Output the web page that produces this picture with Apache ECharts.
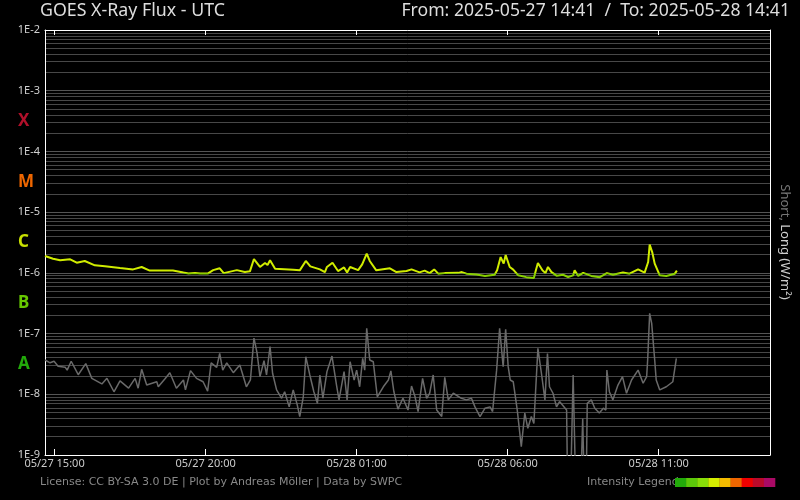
<!DOCTYPE html>
<html><head><meta charset="utf-8">
<script src="https://cdn.jsdelivr.net/npm/echarts@6/dist/echarts.min.js"></script>
<style>html,body{margin:0;padding:0;background:#000}#c{width:800px;height:500px}</style>
</head><body><div id="c"></div>
<script>
// ---- data ----
const startTime = '2025-05-27T14:41:00Z';
const endTime = '2025-05-28T14:41:00Z';
const xTickTimes = ['2025-05-27T15:00:00Z','2025-05-27T20:00:00Z','2025-05-28T01:00:00Z','2025-05-28T06:00:00Z','2025-05-28T11:00:00Z'];
const bandLetters = ['A','B','C','M','X'];
const bandMidValues = [3.16e-8, 3.16e-7, 3.16e-6, 3.16e-5, 3.16e-4];
const bandColors = ['#22aa0a','#66c800','#c8e000','#ee6600','#b0102a'];
const classThreshold = 1e-6;   // long-channel colour switches here (B -> C)
const gridMultipliers = [2,3,4,5,6,7,8,9];
const gridDecades = [-9,-8,-7,-6,-5,-4,-3];
const legendColors = ['#22aa0a','#5cc80a','#88dd08','#d4ee00','#f4bb00','#ee6600','#ee0000','#bb0a2a','#aa0a66'];

// Long channel (0.1-0.8 nm): minutes after start, flux W/m²
const longMinutes = [0,16,30,50,63,79,99,119,149,175,192,208,254,275,285,298,308,324,334,347,355,381,397,407,415,427,437,442,447,457,493,506,518,527,546,556,560,571,582,594,600,606,622,630,639,645,658,685,698,718,728,744,754,764,773,781,794,821,828,837,857,874,893,898,905,911,915,923,930,940,956,971,975,979,988,994,999,1006,1016,1029,1039,1049,1052,1059,1069,1085,1102,1116,1128,1148,1161,1178,1191,1198,1201,1206,1211,1221,1234,1251,1255];
const longFlux = [1.89e-6,1.71e-6,1.61e-6,1.67e-6,1.47e-6,1.57e-6,1.33e-6,1.28e-6,1.20e-6,1.14e-6,1.25e-6,1.09e-6,1.09e-6,1.01e-6,0.98e-6,0.99e-6,0.98e-6,0.98e-6,1.11e-6,1.19e-6,0.99e-6,1.11e-6,1.03e-6,1.06e-6,1.69e-6,1.25e-6,1.45e-6,1.35e-6,1.61e-6,1.17e-6,1.13e-6,1.10e-6,1.57e-6,1.28e-6,1.14e-6,1.03e-6,1.25e-6,1.47e-6,1.07e-6,1.23e-6,1.01e-6,1.25e-6,1.11e-6,1.38e-6,2.07e-6,1.57e-6,1.10e-6,1.19e-6,1.03e-6,1.07e-6,1.14e-6,1.02e-6,1.09e-6,0.99e-6,1.14e-6,0.97e-6,0.99e-6,1.00e-6,1.03e-6,0.97e-6,0.94e-6,0.89e-6,0.93e-6,1.10e-6,1.82e-6,1.42e-6,1.97e-6,1.25e-6,1.13e-6,0.91e-6,0.85e-6,0.82e-6,1.10e-6,1.45e-6,1.10e-6,0.99e-6,1.25e-6,1.03e-6,0.90e-6,0.93e-6,0.85e-6,0.91e-6,1.10e-6,0.89e-6,1.00e-6,0.89e-6,0.85e-6,0.99e-6,0.93e-6,1.01e-6,0.97e-6,1.14e-6,1.01e-6,1.51e-6,2.91e-6,2.20e-6,1.42e-6,0.91e-6,0.89e-6,0.97e-6,1.09e-6];

// Short channel (0.05-0.4 nm): minutes after start, flux W/m²
const shortMinutes = [0,10,18,26,40,44,52,66,81,93,113,123,137,149,166,179,185,192,202,222,225,238,248,261,275,279,289,301,314,323,330,341,347,353,361,374,387,400,408,415,421,427,435,440,447,452,460,470,476,485,493,501,506,513,518,526,534,541,546,552,560,570,579,584,594,600,606,614,619,625,631,635,639,645,652,660,672,682,687,693,701,711,721,728,735,741,750,758,764,771,778,788,794,801,811,827,837,847,854,864,874,884,889,897,903,910,915,920,924,930,938,946,953,959,966,971,979,986,993,998,1002,1009,1016,1022,1036,1038,1044,1049,1054,1064,1068,1071,1075,1077,1085,1092,1101,1109,1114,1116,1121,1128,1138,1147,1155,1165,1178,1188,1195,1197,1201,1205,1211,1214,1221,1234,1247,1254];
const shortFlux = [3.67e-8,3.3e-8,3.5e-8,2.9e-8,2.8e-8,2.5e-8,3.5e-8,2.1e-8,3.2e-8,1.83e-8,1.48e-8,1.83e-8,1.1e-8,1.66e-8,1.26e-8,1.83e-8,1.26e-8,2.58e-8,1.42e-8,1.61e-8,1.33e-8,1.79e-8,2.27e-8,1.26e-8,1.72e-8,1.18e-8,2.45e-8,1.83e-8,1.61e-8,1.13e-8,3.3e-8,2.78e-8,4.7e-8,2.5e-8,3.3e-8,2.27e-8,3.04e-8,1.33e-8,1.72e-8,8.4e-8,4.9e-8,1.95e-8,3.57e-8,2.08e-8,6.1e-8,2.22e-8,1.18e-8,0.86e-8,1.1e-8,0.62e-8,1.18e-8,0.67e-8,0.43e-8,0.91e-8,4.16e-8,2.08e-8,1.1e-8,0.71e-8,2.08e-8,0.86e-8,2.36e-8,4.27e-8,1.42e-8,0.81e-8,2.36e-8,0.81e-8,3.44e-8,1.72e-8,2.5e-8,1.33e-8,3.9e-8,2.5e-8,12.2e-8,3.67e-8,3.44e-8,0.91e-8,1.33e-8,1.72e-8,2.42e-8,1.1e-8,0.57e-8,0.86e-8,0.55e-8,1.37e-8,0.91e-8,0.52e-8,1.83e-8,0.86e-8,1.04e-8,2.08e-8,0.55e-8,0.43e-8,1.9e-8,0.81e-8,1.04e-8,0.86e-8,0.81e-8,0.86e-8,0.62e-8,0.43e-8,0.59e-8,0.62e-8,0.52e-8,2.5e-8,12.2e-8,2.85e-8,11.8e-8,2.85e-8,1.72e-8,1.61e-8,0.55e-8,0.137e-8,0.49e-8,0.275e-8,0.43e-8,0.33e-8,5.7e-8,2.22e-8,0.81e-8,4.7e-8,1.33e-8,1.04e-8,0.62e-8,0.76e-8,0.55e-8,0.03e-8,0.03e-8,2.08e-8,0.03e-8,0.03e-8,0.40e-8,0.03e-8,0.03e-8,0.71e-8,0.81e-8,0.59e-8,0.49e-8,0.59e-8,0.55e-8,2.5e-8,1.1e-8,0.81e-8,1.42e-8,1.95e-8,1.04e-8,1.72e-8,2.5e-8,1.52e-8,1.95e-8,3.67e-8,21.5e-8,14.7e-8,3.67e-8,1.72e-8,1.18e-8,1.33e-8,1.61e-8,3.9e-8];

// ---- chart ----
const t0 = Date.parse(startTime), t1 = Date.parse(endTime);
const spanMin = (t1 - t0) / 60000;
const xTicks = xTickTimes.map(s => (Date.parse(s) - t0) / 60000);
const toPairs = (mins, vals) => mins.map((m, i) => [m, vals[i]]);
const gridValues = [];
gridDecades.forEach(d => gridMultipliers.forEach(k => gridValues.push(k * Math.pow(10, d))));
const pad = n => (n < 10 ? '0' : '') + n;
const fmtTime = m => { const d = new Date(t0 + m * 60000); return pad(d.getUTCMonth()+1) + '/' + pad(d.getUTCDate()) + ' ' + pad(d.getUTCHours()) + ':' + pad(d.getUTCMinutes()); };
const bandRich = {};
bandLetters.forEach((l, i) => { bandRich[l] = { color: bandColors[i], fontSize: 17, fontWeight: 'bold', fontFamily: 'Noto Sans' }; });
const FONT = 'Noto Sans';
const YELLOW = '#d0ec00', GREEN = '#88d000';

const chart = echarts.init(document.getElementById('c'), null, { renderer: 'canvas' });
const graphics = [
  { type: 'text', left: 40, top: 2, style: { text: 'GOES X-Ray Flux - UTC', fill: '#dddddd', font: '17.8px "Noto Sans"' } },
  { type: 'text', right: 10, top: 2, style: { text: 'From: 2025-05-27 14:41  /  To: 2025-05-28 14:41', fill: '#dddddd', font: '17.6px "Noto Sans"' } },
  { type: 'text', x: 785, y: 242, rotation: -Math.PI / 2, style: { text: '{a|Short,} {b|Long (W/m²)}', align: 'center', verticalAlign: 'middle', rich: { a: { fill: '#777777', font: '13px "Noto Sans"' }, b: { fill: '#cccccc', font: '13px "Noto Sans"' } } } },
  { type: 'text', x: 40, y: 482, style: { text: 'License: CC BY-SA 3.0 DE | Plot by Andreas Möller | Data by SWPC', fill: '#888888', font: '11px "DejaVu Sans"', verticalAlign: 'middle' } },
  { type: 'text', x: 587, y: 482, style: { text: 'Intensity Legend', fill: '#888888', font: '11px "DejaVu Sans"', verticalAlign: 'middle' } }
];
legendColors.forEach((c, i) => graphics.push({ type: 'rect', z: 10, shape: { x: 675 + i * 100 / 9, y: 478, width: 100 / 9 + 0.3, height: 9 }, style: { fill: c } }));

chart.setOption({
  backgroundColor: '#000000',
  animation: false,
  grid: { left: 45, right: 30, top: 30, bottom: 45 },
  xAxis: [
    { type: 'value', min: 0, max: spanMin, position: 'bottom',
      axisLine: { show: true, lineStyle: { color: '#ffffff', width: 1 } },
      axisTick: { show: true, inside: true, length: 6, customValues: xTicks, lineStyle: { color: '#ffffff' } },
      axisLabel: { customValues: xTicks, formatter: fmtTime, color: '#cccccc', fontFamily: FONT, fontSize: 11, margin: 3 },
      splitLine: { show: false } },
    { type: 'value', min: 0, max: spanMin, position: 'top',
      axisLine: { show: true, lineStyle: { color: '#ffffff', width: 1 } },
      axisTick: { show: true, inside: true, length: 5, customValues: xTicks, lineStyle: { color: '#ffffff' } },
      axisLabel: { show: false }, splitLine: { show: false } }
  ],
  yAxis: [
    { type: 'log', logBase: 10, min: 1e-9, max: 1e-2, splitNumber: 7, position: 'left',
      axisLine: { show: true, lineStyle: { color: '#ffffff', width: 1 } },
      axisTick: { show: false },
      axisLabel: { color: '#d0d0d0', fontFamily: FONT, fontSize: 11, margin: 5, formatter: v => '1E' + Math.round(Math.log10(v)) },
      splitLine: { show: true, lineStyle: { color: '#555555', width: 1 } } },
    { type: 'log', logBase: 10, min: 1e-9, max: 1e-2, position: 'left',
      axisLine: { show: false }, axisTick: { show: false }, splitLine: { show: false },
      axisLabel: { customValues: bandMidValues, align: 'left', margin: 27,
        formatter: v => { let best = 0, bd = 1e9; bandMidValues.forEach((b, i) => { const d = Math.abs(Math.log10(b) - Math.log10(v)); if (d < bd) { bd = d; best = i; } }); return '{' + bandLetters[best] + '|' + bandLetters[best] + '}'; },
        rich: bandRich } },
    { type: 'log', logBase: 10, min: 1e-9, max: 1e-2, position: 'right',
      axisLine: { show: true, lineStyle: { color: '#ffffff', width: 1 } },
      axisTick: { show: false, customValues: gridValues }, axisLabel: { show: false },
      splitLine: { show: true, lineStyle: { color: '#484848', width: 1 } } }
  ],
  series: [
    { name: 'Short', type: 'line', data: toPairs(shortMinutes, shortFlux), showSymbol: false, symbol: 'none', z: 3,
      lineStyle: { color: '#6a6a6a', width: 1.5 }, itemStyle: { color: '#6a6a6a' } },
    { name: 'Long', type: 'line', data: toPairs(longMinutes, longFlux), showSymbol: false, symbol: 'none', z: 4,
      lineStyle: { width: 2, color: YELLOW } }
  ],
  graphic: graphics
});

// colour the long channel by class: yellow at/above threshold, green below
const yThr = chart.convertToPixel({ yAxisIndex: 0 }, classThreshold);
const p = yThr / 500;
chart.setOption({ series: [{}, { lineStyle: { color: { type: 'linear', x: 0, y: 0, x2: 0, y2: 500, global: true,
  colorStops: [{ offset: 0, color: YELLOW }, { offset: p, color: YELLOW }, { offset: p, color: GREEN }, { offset: 1, color: GREEN }] } } }] });
</script>
</body></html>
